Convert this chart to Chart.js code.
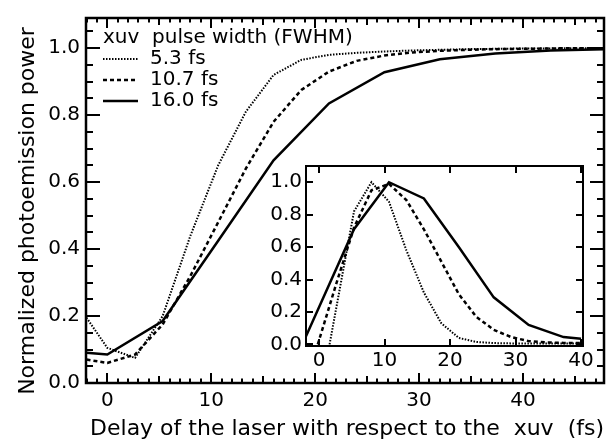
<!DOCTYPE html>
<html>
<head>
<meta charset="utf-8">
<script src="https://cdn.jsdelivr.net/npm/chart.js@4.4.1/dist/chart.umd.min.js"></script>
<style>
  body { margin: 0; background: #fff; }
  #wrap { position: relative; width: 616px; height: 445px; }
  #main { position: absolute; left: 0; top: 0; }
  #inset { position: absolute; left: 260px; top: 150px; }
  #marks { position: absolute; left: 0; top: 0; pointer-events: none; }
</style>
</head>
<body>
<div id="wrap">
  <canvas id="main" width="616" height="445"></canvas>
  <canvas id="inset" width="340" height="230"></canvas>
  <canvas id="marks" width="616" height="445"></canvas>
</div>
<script>
// main panel : normalized photoemission power vs delay (fs)
var delay53 = [-2, 0, 2.67, 5.33, 8, 10.67, 13.33, 16, 18.67, 21.33, 24, 26.67, 29.33, 32, 34.67, 37.33, 40, 42.67, 45.33, 48];
var power53 = [0.195, 0.105, 0.075, 0.2, 0.44, 0.65, 0.81, 0.92, 0.965, 0.98, 0.986, 0.99, 0.993, 0.995, 0.997, 0.998, 0.999, 0.999, 1.0, 1.0];
var delay107 = [-2, 0, 2.67, 5.33, 8, 10.67, 13.33, 16, 18.67, 21.33, 24, 26.67, 29.33, 32, 34.67, 37.33, 40, 42.67, 45.33, 48];
var power107 = [0.07, 0.06, 0.085, 0.175, 0.32, 0.48, 0.64, 0.78, 0.875, 0.93, 0.962, 0.978, 0.987, 0.992, 0.995, 0.997, 0.998, 0.999, 1.0, 1.0];
var delay160 = [-2, 0, 5.33, 10.67, 16, 21.33, 26.67, 32, 37.33, 42.67, 48];
var power160 = [0.09, 0.085, 0.185, 0.425, 0.665, 0.835, 0.928, 0.967, 0.984, 0.993, 0.997];

// inset
var insetDelay53 = [1.6, 5.33, 8, 10.67, 13.33, 16, 18.67, 21.33, 24, 26.67, 29.33, 32, 34.67, 37.33, 40];
var insetVal53 = [0.0, 0.82, 1.0, 0.88, 0.58, 0.32, 0.13, 0.04, 0.015, 0.008, 0.006, 0.005, 0.005, 0.005, 0.005];
var insetDelay107 = [-0.2, 2.67, 5.33, 8, 10.67, 13.33, 16, 18.67, 21.33, 24, 26.67, 29.33, 32, 34.67, 37.33, 40];
var insetVal107 = [0.0, 0.38, 0.72, 0.95, 0.99, 0.89, 0.71, 0.51, 0.31, 0.17, 0.09, 0.045, 0.02, 0.012, 0.009, 0.008];
var insetDelay160 = [-2, 5.33, 10.67, 16, 21.33, 26.67, 32, 37.33, 40];
var insetVal160 = [0.05, 0.71, 1.0, 0.9, 0.6, 0.29, 0.12, 0.045, 0.035];

var seriesLabels = ["5.3 fs", "10.7 fs", "16.0 fs"];
var legendTitle = "xuv  pulse width (FWHM)";
var xTickVals = [0, 10, 20, 30, 40];
var yTickVals = [0, 0.2, 0.4, 0.6, 0.8, 1.0];

// inward tick marks: [step, length]
var mainXMarks = [[1, 4.5], [5, 7], [10, 10]];
var mainYMarks = [[0.05, 7], [0.2, 14]];
var insetXMarks = [[10, 7]];
var insetYMarks = [[0.2, 7]];

Chart.defaults.font.family = "'DejaVu Sans', sans-serif";
Chart.defaults.color = "#000";

function pts(xs, ys) {
  return xs.map(function (v, i) { return { x: v, y: ys[i] }; });
}

// draws tick marks of a chart onto a context, shifted by (ox, oy)
function paintTicks(ctx, chart, ox, oy, xMarks, yMarks, w) {
  var a = chart.chartArea, xs = chart.scales.x, ys = chart.scales.y;
  ctx.save();
  ctx.setTransform(1, 0, 0, 1, 0, 0);
  ctx.globalAlpha = 1;
  ctx.globalCompositeOperation = "source-over";
  ctx.fillStyle = "#000";
  xMarks.forEach(function (m) {
    var step = m[0], len = m[1];
    var k0 = Math.ceil(xs.min / step - 1e-9), k1 = Math.floor(xs.max / step + 1e-9);
    for (var k = k0; k <= k1; k++) {
      var px = Math.round(xs.getPixelForValue(k * step));
      ctx.fillRect(ox + px - w / 2, oy + a.bottom - len, w, len);
      ctx.fillRect(ox + px - w / 2, oy + a.top, w, len);
    }
  });
  yMarks.forEach(function (m) {
    var step = m[0], len = m[1];
    var k0 = Math.ceil(ys.min / step - 1e-9), k1 = Math.floor(ys.max / step + 1e-9);
    for (var k = k0; k <= k1; k++) {
      var py = Math.round(ys.getPixelForValue(k * step));
      ctx.fillRect(ox + a.left, oy + py - w / 2, len, w);
      ctx.fillRect(ox + a.right - len, oy + py - w / 2, len, w);
    }
  });
  ctx.restore();
}

// box around the plot area
function frameBox(frameWidth) {
  return {
    id: "frameBox",
    afterDraw: function (chart) {
      var ctx = chart.ctx, a = chart.chartArea;
      ctx.save();
      ctx.setLineDash([]);
      ctx.strokeStyle = "#000";
      ctx.lineWidth = frameWidth;
      ctx.strokeRect(a.left, a.top, a.right - a.left, a.bottom - a.top);
      ctx.restore();
    }
  };
}

// legend drawn inside the plot, top-left
var legendBox = {
  id: "legendBox",
  afterDraw: function (chart) {
    var ctx = chart.ctx, x = 103, y0 = 43, gap = 21;
    ctx.save();
    ctx.fillStyle = "#000";
    ctx.strokeStyle = "#000";
    ctx.font = "20px 'DejaVu Sans'";
    ctx.fillText(legendTitle, x, y0);
    chart.data.datasets.forEach(function (ds, i) {
      var y = y0 + gap * (i + 1);
      ctx.lineWidth = ds.borderWidth;
      ctx.setLineDash(ds.borderDash || []);
      ctx.beginPath();
      ctx.moveTo(x, y - 5);
      ctx.lineTo(x + 35, y - 5);
      ctx.stroke();
      ctx.setLineDash([]);
      ctx.fillText(ds.label, x + 47, y);
    });
    ctx.restore();
  }
};

function lineSet(label, data, width, dash) {
  return {
    label: label,
    data: data,
    borderColor: "#000",
    borderWidth: width,
    borderDash: dash,
    pointRadius: 0,
    tension: 0,
    fill: false
  };
}

function setTicks(vals) {
  return function (scale) {
    scale.ticks = vals.map(function (v) { return { value: v }; });
  };
}

var mainChart = new Chart(document.getElementById("main"), {
  type: "line",
  data: {
    datasets: [
      lineSet(seriesLabels[0], pts(delay53, power53), 2, [1.5, 1.5]),
      lineSet(seriesLabels[1], pts(delay107, power107), 2.5, [4, 3]),
      lineSet(seriesLabels[2], pts(delay160, power160), 2.5, [])
    ]
  },
  options: {
    responsive: false,
    animation: false,
    layout: { padding: { top: 13, right: 12, left: 0, bottom: 0 } },
    plugins: {
      legend: { display: false },
      tooltip: { enabled: false }
    },
    scales: {
      x: {
        type: "linear",
        min: -2.05,
        max: 47.8,
        grid: { display: false, drawTicks: false },
        border: { display: false },
        afterBuildTicks: setTicks(xTickVals),
        afterFit: function (scale) { scale.height = 62; },
        ticks: { padding: 6, font: { size: 20 } },
        title: {
          display: true,
          align: "end",
          text: "Delay of the laser with respect to the  xuv  (fs)",
          font: { size: 22 },
          padding: { top: 0, bottom: 3 }
        }
      },
      y: {
        type: "linear",
        min: 0,
        max: 1.09,
        grid: { display: false, drawTicks: false },
        border: { display: false },
        afterBuildTicks: setTicks(yTickVals),
        afterFit: function (scale) { scale.width = 86; },
        ticks: { padding: 6, font: { size: 20 }, callback: function (v) { return v.toFixed(1); } },
        title: {
          display: true,
          text: "Normalized photoemission power   ",
          font: { size: 22 },
          padding: { top: 15, bottom: 0 }
        }
      }
    }
  },
  plugins: [frameBox(2.5), legendBox]
});

var insetChart = new Chart(document.getElementById("inset"), {
  type: "line",
  data: {
    datasets: [
      lineSet(seriesLabels[0], pts(insetDelay53, insetVal53), 2, [1.5, 1.5]),
      lineSet(seriesLabels[1], pts(insetDelay107, insetVal107), 2.5, [4, 3]),
      lineSet(seriesLabels[2], pts(insetDelay160, insetVal160), 2.5, [])
    ]
  },
  options: {
    responsive: false,
    animation: false,
    layout: { padding: { top: 7, right: 17, left: 0, bottom: 0 } },
    plugins: {
      legend: { display: false },
      tooltip: { enabled: false }
    },
    scales: {
      x: {
        type: "linear",
        min: -2,
        max: 40.3,
        grid: { display: false, drawTicks: false },
        border: { display: false },
        afterBuildTicks: setTicks(xTickVals),
        afterFit: function (scale) { scale.height = 34; },
        ticks: { padding: 3, font: { size: 20 } }
      },
      y: {
        type: "linear",
        min: -0.01,
        max: 1.1,
        grid: { display: false, drawTicks: false },
        border: { display: false },
        afterBuildTicks: setTicks(yTickVals),
        afterFit: function (scale) { scale.width = 46; },
        ticks: { padding: 4, font: { size: 20 }, callback: function (v) { return v.toFixed(1); } }
      }
    }
  },
  plugins: [frameBox(2)]
});

// tick marks on a separate layer above both charts, placed with the charts' own scales
var marksCtx = document.getElementById("marks").getContext("2d");
paintTicks(marksCtx, mainChart, 0, 0, mainXMarks, mainYMarks, 2);
paintTicks(marksCtx, insetChart, 260, 150, insetXMarks, insetYMarks, 2);
</script>
</body>
</html>
